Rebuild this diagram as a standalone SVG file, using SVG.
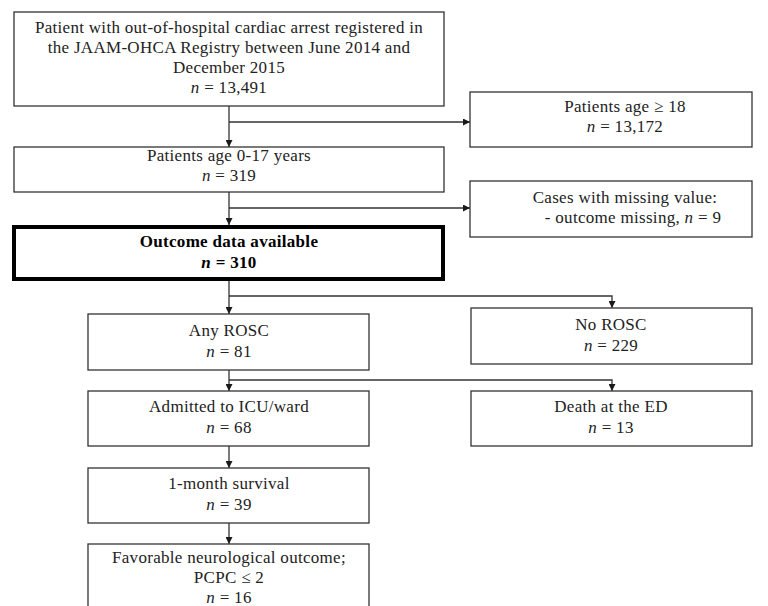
<svg xmlns="http://www.w3.org/2000/svg" width="768" height="606" viewBox="0 0 768 606">
<defs>
<marker id="arr" markerWidth="7" markerHeight="7" refX="7" refY="3.5" orient="auto" markerUnits="userSpaceOnUse">
<path d="M0,0 L7,3.5 L0,7 z" fill="#1a1a1a"/>
</marker>
<style>
.box{fill:#fff;stroke:#333;stroke-width:1.3}
.bold{fill:#fff;stroke:#000;stroke-width:4}
.t{font-family:"Liberation Serif","Times New Roman",serif;font-size:17px;letter-spacing:0.3px;fill:#222;text-anchor:middle}
.b{font-weight:bold;fill:#000}
.i{font-style:italic}
.c{fill:none;stroke:#333;stroke-width:1.3}
</style>
</defs>
<rect width="768" height="606" fill="#fff"/>
<g id="connectors">
<path class="c" d="M229,106 V147" marker-end="url(#arr)"/>
<path class="c" d="M229,122 H470" marker-end="url(#arr)"/>
<path class="c" d="M229,192 V225" marker-end="url(#arr)"/>
<path class="c" d="M229,208 H470" marker-end="url(#arr)"/>
<path class="c" d="M229,281 V314" marker-end="url(#arr)"/>
<path class="c" d="M229,296 H612 V308" marker-end="url(#arr)"/>
<path class="c" d="M229,370 V391" marker-end="url(#arr)"/>
<path class="c" d="M229,380 H612 V391" marker-end="url(#arr)"/>
<path class="c" d="M229,446 V468" marker-end="url(#arr)"/>
<path class="c" d="M229,523 V544" marker-end="url(#arr)"/>
</g>
<g id="registered">
<rect class="box" x="14" y="12" width="430" height="94"/>
<text class="t" x="229" y="33">Patient with out-of-hospital cardiac arrest registered in</text>
<text class="t" x="229" y="53">the JAAM-OHCA Registry between June 2014 and</text>
<text class="t" x="229" y="73">December 2015</text>
<text class="t" x="229" y="93"><tspan class="i">n</tspan> = 13,491</text>
</g>
<g id="age18">
<rect class="box" x="470" y="92" width="282" height="55"/>
<text class="t" x="625" y="112">Patients age ≥ 18</text>
<text class="t" x="625" y="132"><tspan class="i">n</tspan> = 13,172</text>
</g>
<g id="age017">
<rect class="box" x="14" y="147" width="430" height="45"/>
<text class="t" x="229" y="161">Patients age 0-17 years</text>
<text class="t" x="229" y="181"><tspan class="i">n</tspan> = 319</text>
</g>
<g id="missing">
<rect class="box" x="470" y="181" width="282" height="56"/>
<text class="t" x="625" y="203">Cases with missing value:</text>
<text class="t" x="633" y="223">- outcome missing, <tspan class="i">n</tspan> = 9</text>
</g>
<g id="outcome">
<rect class="bold" x="14" y="227" width="429" height="52"/>
<text class="t b" x="229" y="247">Outcome data available</text>
<text class="t b" x="229" y="268"><tspan class="i">n</tspan> = 310</text>
</g>
<g id="anyrosc">
<rect class="box" x="88" y="314" width="281" height="56"/>
<text class="t" x="229" y="336">Any ROSC</text>
<text class="t" x="229" y="357"><tspan class="i">n</tspan> = 81</text>
</g>
<g id="norosc">
<rect class="box" x="471" y="308" width="281" height="56"/>
<text class="t" x="611" y="330">No ROSC</text>
<text class="t" x="611" y="351"><tspan class="i">n</tspan> = 229</text>
</g>
<g id="admitted">
<rect class="box" x="88" y="391" width="281" height="55"/>
<text class="t" x="229" y="412">Admitted to ICU/ward</text>
<text class="t" x="229" y="433"><tspan class="i">n</tspan> = 68</text>
</g>
<g id="death">
<rect class="box" x="471" y="391" width="281" height="55"/>
<text class="t" x="611" y="412">Death at the ED</text>
<text class="t" x="611" y="433"><tspan class="i">n</tspan> = 13</text>
</g>
<g id="survival">
<rect class="box" x="88" y="468" width="281" height="55"/>
<text class="t" x="229" y="489">1-month survival</text>
<text class="t" x="229" y="510"><tspan class="i">n</tspan> = 39</text>
</g>
<g id="favorable">
<rect class="box" x="88" y="544" width="281" height="80"/>
<text class="t" x="229" y="563">Favorable neurological outcome;</text>
<text class="t" x="229" y="583">PCPC ≤ 2</text>
<text class="t" x="229" y="603"><tspan class="i">n</tspan> = 16</text>
</g>
</svg>
